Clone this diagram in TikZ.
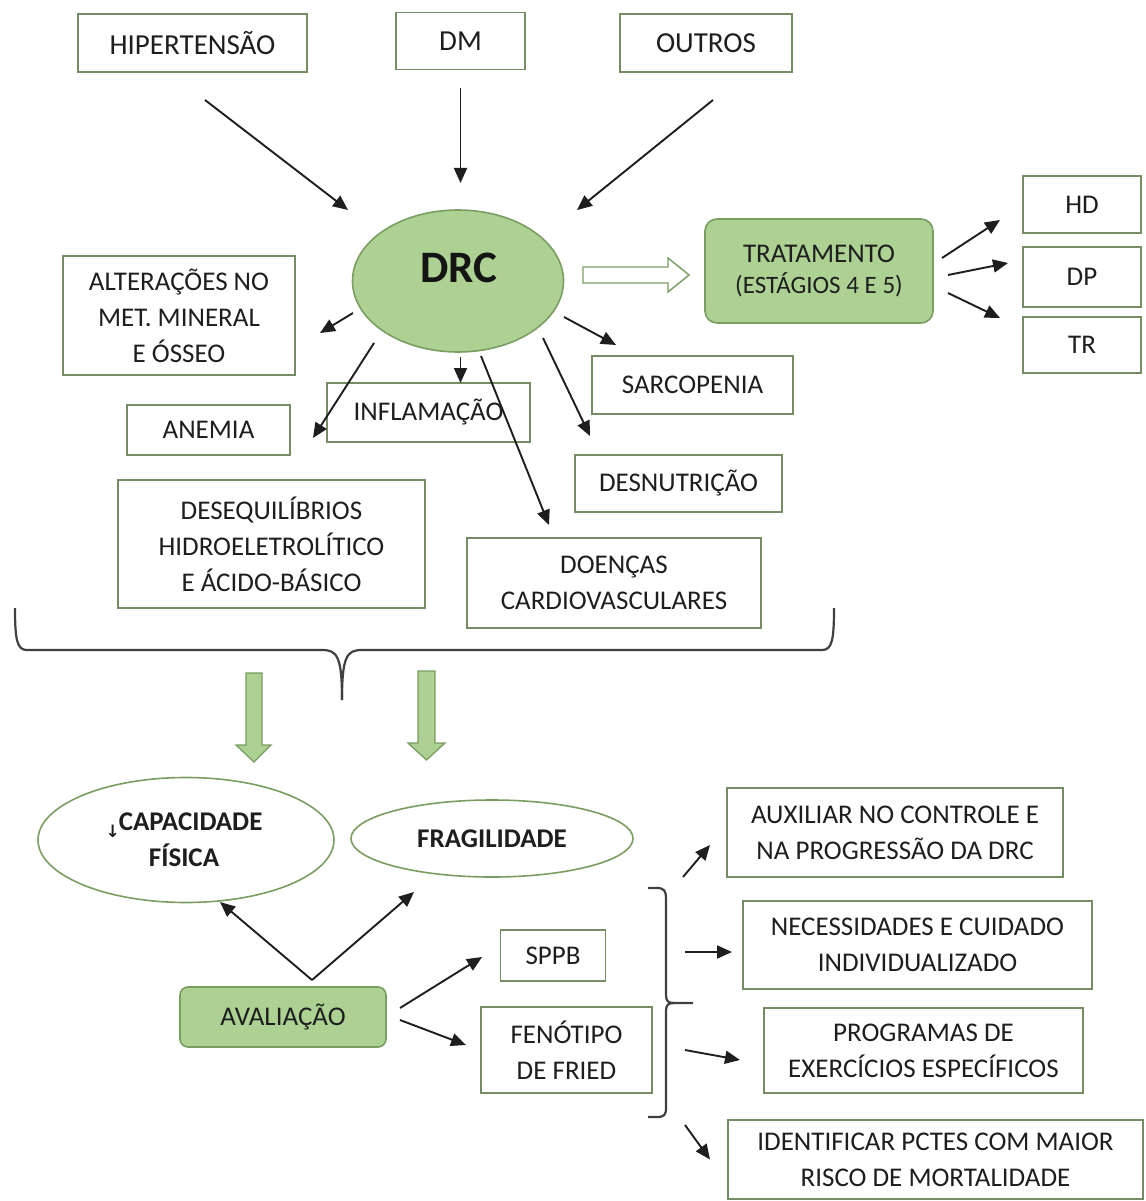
\documentclass[tikz,border=0pt]{standalone}
\usepackage{fontspec}
\setmainfont{Carlito}
\newfontfamily\symfont{DejaVu Sans}
\usetikzlibrary{arrows.meta,calc,shapes.geometric}
\definecolor{lgreen}{RGB}{172,209,146}
\definecolor{gedge}{RGB}{122,158,98}
\definecolor{bedge}{RGB}{118,140,98}
\definecolor{txt}{RGB}{30,30,30}
\begin{document}
\begin{tikzpicture}[x=1pt,y=-1pt,
  every node/.style={font=\fontsize{27}{36}\selectfont, text=txt, inner sep=0pt, align=center},
  sz/.style n args={2}{minimum width=#1pt, minimum height=#2pt},
  box/.style={draw=bedge, line width=1.7pt, fill=white, rectangle},
  topbox/.style={box, font=\fontsize{29}{36}\selectfont},
  gbox/.style={draw=gedge, line width=1.6pt, fill=lgreen, rectangle, rounded corners=12pt},
  oval/.style={draw=gedge, line width=1.6pt, ellipse, fill=white},
  arr/.style={draw=txt, line width=1.9pt, -{Triangle[length=15pt,width=13pt]}},
  bigarrow/.style={draw=gedge, line width=1.3pt, fill=lgreen},
  brc/.style={draw=txt!85, line width=2.2pt}
]
\useasboundingbox (0,0) rectangle (1145,1201);
\fill[white] (0,0) rectangle (1145,1201);

% top causes
\node[topbox, sz={229}{58}] (hip) at (192.5,43) {HIPERTENSÃO};
\node[topbox, sz={129}{57}] (dm) at (460.5,41) {DM};
\node[topbox, sz={172}{58}] (outr) at (706,43) {OUTROS};

% DRC
\node[ellipse, draw=gedge, line width=1.6pt, fill=lgreen, sz={211}{142}] (drc) at (458,281) {};
\node[font=\fontsize{45}{48}\selectfont\bfseries, text=black!92] (drctxt) at (459,268) {DRC};

% treatment
\node[gbox, sz={228}{104}] (trat) at (819,271) {TRATAMENTO\\[-5pt]{\fontsize{25}{30}\selectfont (ESTÁGIOS 4 E 5)}};
\node[box, sz={118}{57}] (hd) at (1082,204.5) {HD};
\node[box, sz={118}{60}] (dp) at (1082,277) {DP};
\node[box, sz={118}{56}] (tr) at (1082,345) {TR};

% consequences
\node[box, sz={232}{119}] (alt) at (179,315.5) {ALTERAÇÕES NO\\MET. MINERAL\\E ÓSSEO};
\node[box, sz={203}{59}] (infl) at (428.5,412.5) {INFLAMAÇÃO};
\node[box, sz={163}{50}] (anem) at (208.5,430) {ANEMIA};
\node[box, sz={201}{58}] (sarc) at (692.5,385) {SARCOPENIA};
\node[box, sz={207}{57}] (desn) at (678.5,483.5) {DESNUTRIÇÃO};
\node[box, sz={307}{128}] (deseq) at (271.5,544) {DESEQUILÍBRIOS\\HIDROELETROLÍTICO\\E ÁCIDO-BÁSICO};
\node[box, sz={294}{90}] (doen) at (614,583) {DOENÇAS\\CARDIOVASCULARES};

% arrows into DRC
\draw[arr] ($(hip)+(12.5,57)$) -- ($(drc)+(-110,-71)$);
\draw[arr] ($(dm)+(0,47)$) -- ($(drc)+(2.5,-98)$);
\draw[arr] ($(outr)+(7,57)$) -- ($(drc)+(119,-71)$);

% arrows out of DRC
\draw[arr] ($(drc)+(-105,32)$) -- ($(alt)+(141,17.5)$);
\draw[arr] ($(drc)+(2.5,76)$) -- ($(infl)+(32,-29.5)$);
\draw[arr] ($(drc)+(-84,62)$) -- ($(anem)+(104.5,8)$);
\draw[arr] ($(drc)+(23,75)$) -- ($(doen)+(-65,-58)$);
\draw[arr] ($(drc)+(85,57)$) -- ($(desn)+(-88.5,-47.5)$);
\draw[arr] ($(drc)+(106,36)$) -- ($(sarc)+(-76.5,-40)$);

% hollow arrow DRC -> tratamento
\draw[draw=gedge, line width=1.4pt, fill=white] (583,267) -- (668,267) -- (668,258) -- (689,275) -- (668,292) -- (668,283) -- (583,283) -- cycle;

% treatment arrows
\draw[arr] ($(trat)+(123,-13)$) -- ($(hd)+(-82,15.5)$);
\draw[arr] ($(trat)+(129,4)$) -- ($(dp)+(-74,-14)$);
\draw[arr] ($(trat)+(129,22)$) -- ($(tr)+(-82,-27)$);

% big brace
\draw[brc] (15,608) .. controls (15,640) and (17,650) .. (27,650) -- (322,650) .. controls (337,650) and (342,656) .. (342,700);
\draw[brc] (342,700) .. controls (342,656) and (347,650) .. (362,650) -- (822,650) .. controls (832,650) and (834,640) .. (834,608);

% green block arrows
\draw[bigarrow] (246,673) -- (262,673) -- (262,745) -- (271,745) -- (254,762) -- (236,745) -- (246,745) -- cycle;
\draw[bigarrow] (418,671) -- (435,671) -- (435,743) -- (445,743) -- (426.5,760) -- (408,743) -- (418,743) -- cycle;

% bottom part
\node[oval, sz={296}{125}] (cap) at (186,840) {};
\node[font=\fontsize{27}{36}\selectfont\bfseries] (captxt) at (184,840) {{\symfont\fontsize{17}{17}\selectfont\raisebox{-7pt}{↓}}\kern-1pt CAPACIDADE\\FÍSICA};
\node[oval, sz={282}{77}, font=\fontsize{27}{36}\selectfont\bfseries] (frag) at (492,838.5) {FRAGILIDADE};

\node[gbox, rounded corners=8pt, sz={206}{60}] (aval) at (283,1017) {AVALIAÇÃO};
\node[box, sz={105}{51}] (sppb) at (553,955.5) {SPPB};
\node[box, sz={171}{86}] (fen) at (566.5,1050) {FENÓTIPO\\DE FRIED};

\draw[arr] ($(aval)+(29,-37)$) -- ($(cap)+(34,62)$);
\draw[arr] ($(aval)+(29,-37)$) -- ($(frag)+(-78,53.5)$);
\draw[arr] ($(aval)+(117,-9)$) -- ($(sppb)+(-71,1.5)$);
\draw[arr] ($(aval)+(117,3)$) -- ($(fen)+(-100.5,-5)$);

% right bracket
\coordinate (brk) at (693,1003);
\draw[brc] (648,888) -- (657,888) .. controls (664,888) and (666,891) .. (666,898) -- (666,995) .. controls (666,1001) and (668,1003) .. (674,1003) -- (brk);
\draw[brc] (674,1003) .. controls (668,1003) and (666,1005) .. (666,1011) -- (666,1108) .. controls (666,1115) and (664,1117) .. (657,1117) -- (648,1117);

\node[box, sz={336}{89}] (aux) at (895,832.5) {AUXILIAR NO CONTROLE E\\NA PROGRESSÃO DA DRC};
\node[box, sz={349}{88}] (nec) at (917.5,945) {NECESSIDADES E CUIDADO\\INDIVIDUALIZADO};
\node[box, sz={319}{85}] (prog) at (923.5,1050.5) {PROGRAMAS DE\\EXERCÍCIOS ESPECÍFICOS};
\node[box, sz={415}{79}] (ident) at (935.5,1159.5) {IDENTIFICAR PCTES COM MAIOR\\RISCO DE MORTALIDADE};

\draw[arr] ($(brk)+(-10,-126)$) -- ($(aux)+(-185,12.5)$);
\draw[arr] ($(brk)+(-8,-51)$) -- ($(nec)+(-185.5,7)$);
\draw[arr] ($(brk)+(-8,47)$) -- ($(prog)+(-183.5,9.5)$);
\draw[arr] ($(brk)+(-8,122)$) -- ($(ident)+(-225.5,0)$);
\end{tikzpicture}
\end{document}
